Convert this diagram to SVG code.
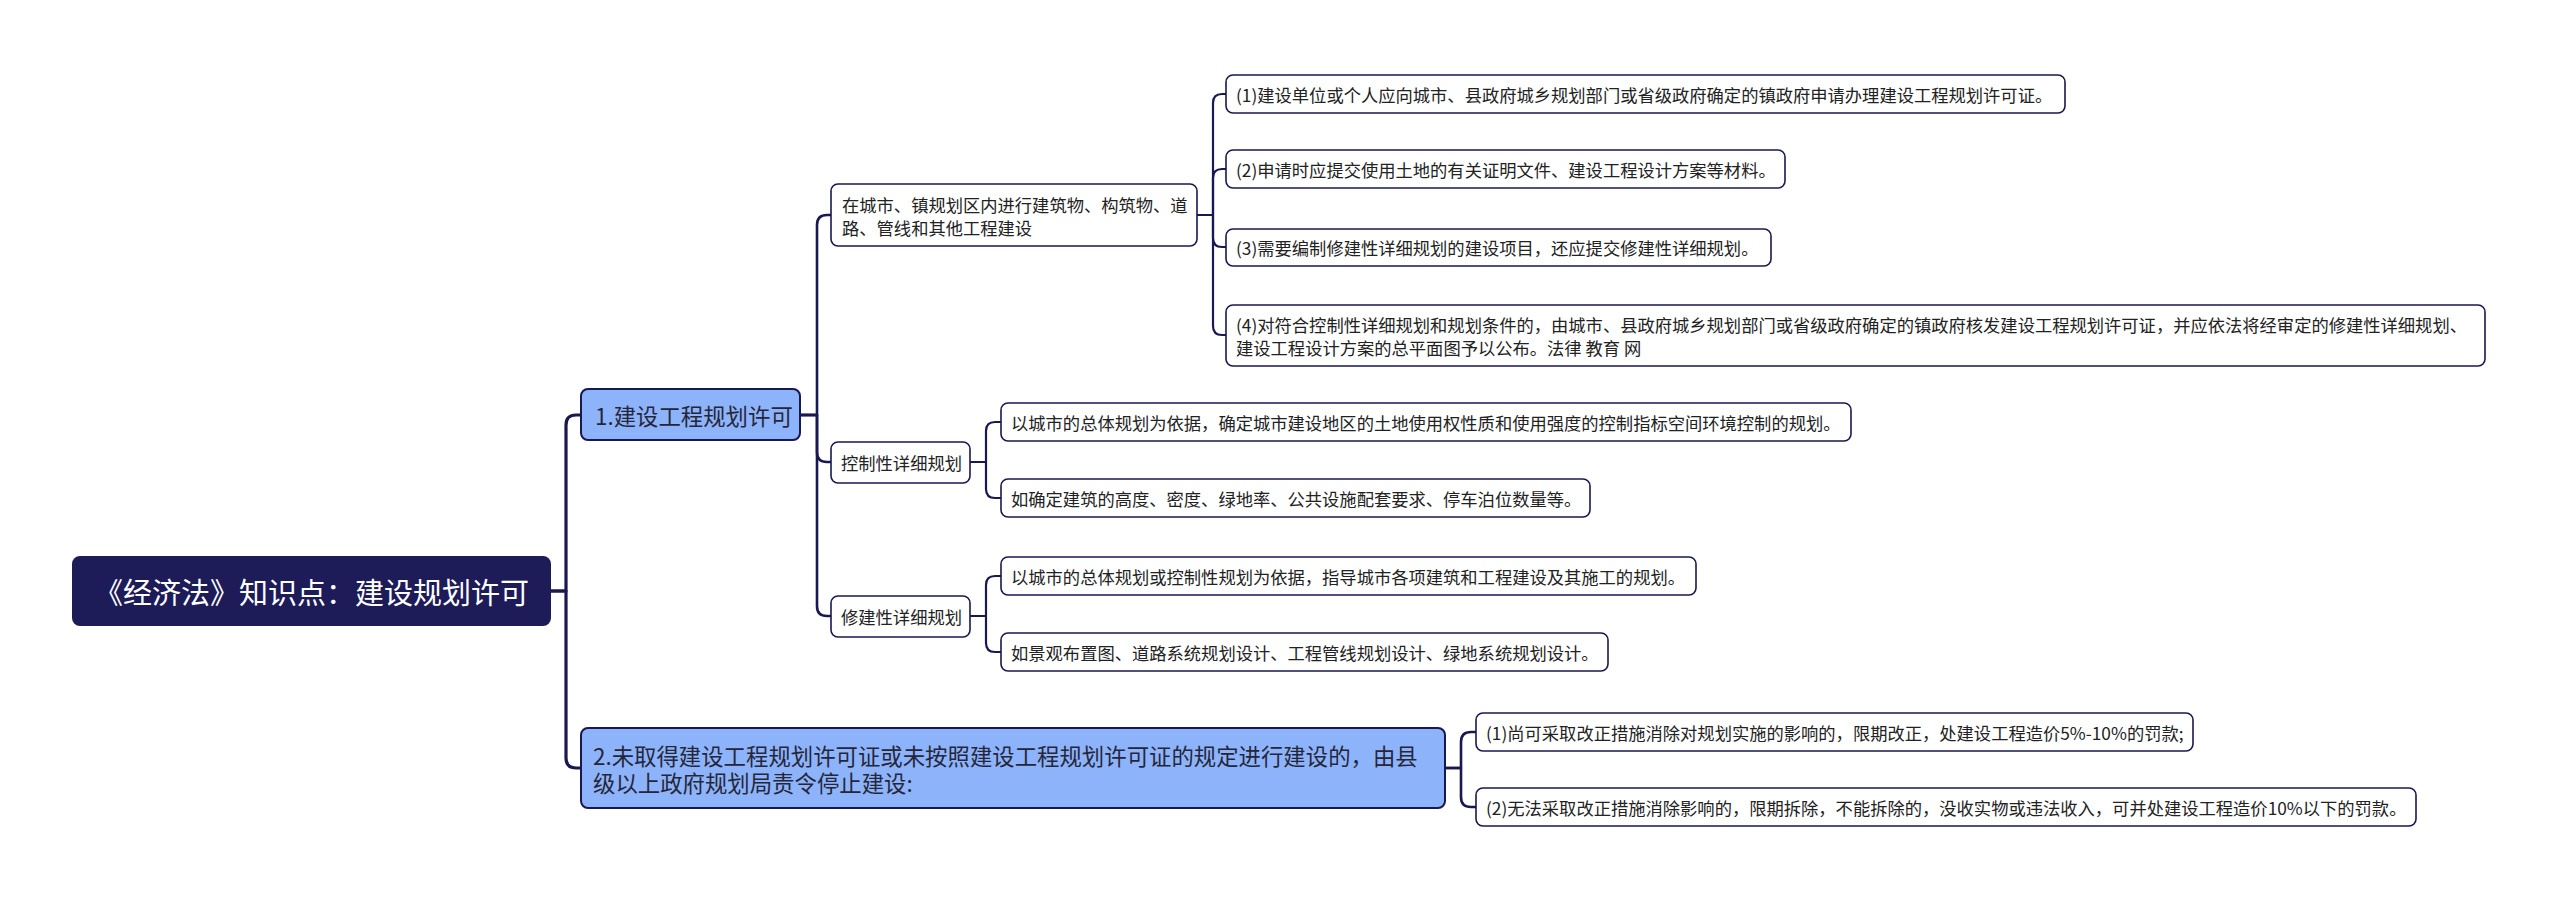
<svg xmlns="http://www.w3.org/2000/svg" width="2560" height="901" viewBox="0 0 2560 901">
<style>
text{font-family:"Noto Sans CJK SC","Noto Sans",sans-serif;dominant-baseline:central;}
.root rect{fill:#1d1b58;stroke:#1d1b58;stroke-width:2;}
.root text{fill:#ffffff;font-size:29px;}
.main rect{fill:#8db4fa;stroke:#1a1850;stroke-width:2;}
.main text{fill:#26263a;font-size:22.4px;}
.sub rect{fill:#ffffff;stroke:#1a1850;stroke-width:1.6;}
.sub text{fill:#222222;font-size:17.3px;}
.leaf rect{fill:#ffffff;stroke:#1a1850;stroke-width:1.6;}
.leaf text{fill:#222222;font-size:17.3px;}
.c{fill:none;stroke:#1a1850;stroke-linecap:round;stroke-linejoin:round;}
.c1{stroke-width:3.2;}
.c2{stroke-width:2.6;}
.c3{stroke-width:2.2;}
</style>
<rect x="0" y="0" width="2560" height="901" fill="#ffffff"/>
<g id="connectors">
<g class="c c1">
<path d="M550,591 H566 V425 Q566,415 576,415 H581"/>
<path d="M550,591 H566 V758 Q566,768 576,768 H581"/>
</g>
<g class="c c2">
<path d="M800,415 H817 V225 Q817,215 827,215 H831"/>
<path d="M800,415 H817 V452 Q817,462 827,462 H831"/>
<path d="M800,415 H817 V606 Q817,616 827,616 H831"/>
<path d="M1445,768 H1461 V742 Q1461,732 1471,732 H1476"/>
<path d="M1445,768 H1461 V797 Q1461,807 1471,807 H1476"/>
</g>
<g class="c c3">
<path d="M1197,215 H1213 V103 Q1213,94 1222,94 H1226"/>
<path d="M1197,215 H1213 V178 Q1213,169 1222,169 H1226"/>
<path d="M1197,215 H1213 V238 Q1213,247 1222,247 H1226"/>
<path d="M1197,215 H1213 V326 Q1213,335 1222,335 H1226"/>
<path d="M970,462 H986 V431 Q986,422 995,422 H1001"/>
<path d="M970,462 H986 V489 Q986,498 995,498 H1001"/>
<path d="M970,616 H986 V585 Q986,576 995,576 H1001"/>
<path d="M970,616 H986 V643 Q986,652 995,652 H1001"/>
</g>
</g>
<g id="root" class="root">
<rect x="73" y="557" width="477" height="68" rx="7"/>
<text x="94" y="591">《经济法》知识点：建设规划许可</text>
</g>
<g id="n1" class="main">
<rect x="581" y="389" width="219" height="51" rx="7"/>
<text x="595" y="415">1.建设工程规划许可</text>
</g>
<g id="n2" class="main">
<rect x="581" y="728" width="864" height="80" rx="7"/>
<text x="593" y="755">2.未取得建设工程规划许可证或未按照建设工程规划许可证的规定进行建设的，由县</text>
<text x="593" y="782">级以上政府规划局责令停止建设:</text>
</g>
<g id="n1a" class="sub">
<rect x="831" y="184" width="366" height="62" rx="7"/>
<text x="842" y="204">在城市、镇规划区内进行建筑物、构筑物、道</text>
<text x="842" y="227">路、管线和其他工程建设</text>
</g>
<g id="n1b" class="sub">
<rect x="831" y="442" width="139" height="41" rx="7"/>
<text x="841" y="462">控制性详细规划</text>
</g>
<g id="n1c" class="sub">
<rect x="831" y="596" width="139" height="41" rx="7"/>
<text x="841" y="616">修建性详细规划</text>
</g>
<g id="l1" class="leaf">
<rect x="1226" y="75" width="839" height="38" rx="7"/>
<text x="1236" y="94">(1)建设单位或个人应向城市、县政府城乡规划部门或省级政府确定的镇政府申请办理建设工程规划许可证。</text>
</g>
<g id="l2" class="leaf">
<rect x="1226" y="150" width="559" height="38" rx="7"/>
<text x="1236" y="169">(2)申请时应提交使用土地的有关证明文件、建设工程设计方案等材料。</text>
</g>
<g id="l3" class="leaf">
<rect x="1226" y="229" width="545" height="37" rx="7"/>
<text x="1236" y="247">(3)需要编制修建性详细规划的建设项目，还应提交修建性详细规划。</text>
</g>
<g id="l4" class="leaf">
<rect x="1226" y="305" width="1259" height="61" rx="7"/>
<text x="1236" y="324">(4)对符合控制性详细规划和规划条件的，由城市、县政府城乡规划部门或省级政府确定的镇政府核发建设工程规划许可证，并应依法将经审定的修建性详细规划、</text>
<text x="1236" y="347">建设工程设计方案的总平面图予以公布。法律 教育 网</text>
</g>
<g id="la" class="leaf">
<rect x="1001" y="403" width="850" height="38" rx="7"/>
<text x="1011" y="422">以城市的总体规划为依据，确定城市建设地区的土地使用权性质和使用强度的控制指标空间环境控制的规划。</text>
</g>
<g id="lb" class="leaf">
<rect x="1001" y="479" width="589" height="38" rx="7"/>
<text x="1011" y="498">如确定建筑的高度、密度、绿地率、公共设施配套要求、停车泊位数量等。</text>
</g>
<g id="lc" class="leaf">
<rect x="1001" y="557" width="695" height="38" rx="7"/>
<text x="1011" y="576">以城市的总体规划或控制性规划为依据，指导城市各项建筑和工程建设及其施工的规划。</text>
</g>
<g id="ld" class="leaf">
<rect x="1001" y="633" width="607" height="38" rx="7"/>
<text x="1011" y="652">如景观布置图、道路系统规划设计、工程管线规划设计、绿地系统规划设计。</text>
</g>
<g id="le" class="leaf">
<rect x="1476" y="713" width="717" height="38" rx="7"/>
<text x="1486" y="732">(1)尚可采取改正措施消除对规划实施的影响的，限期改正，处建设工程造价5%-10%的罚款;</text>
</g>
<g id="lf" class="leaf">
<rect x="1476" y="788" width="940" height="38" rx="7"/>
<text x="1486" y="807">(2)无法采取改正措施消除影响的，限期拆除，不能拆除的，没收实物或违法收入，可并处建设工程造价10%以下的罚款。</text>
</g>
</svg>
